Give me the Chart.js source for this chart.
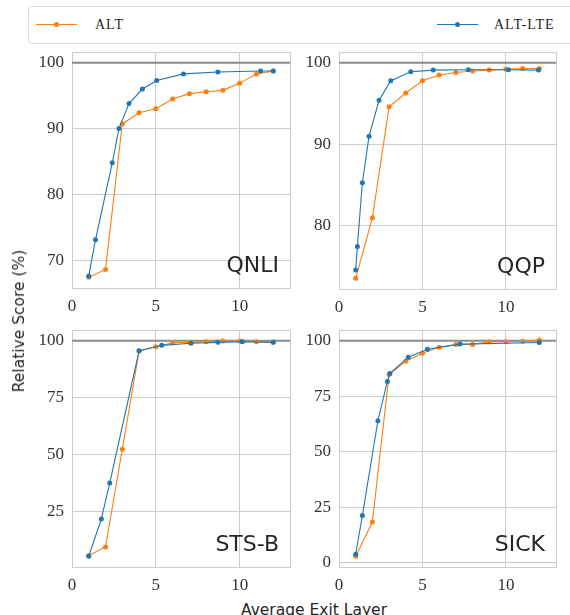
<!DOCTYPE html>
<html lang="en">
<head>
  <meta charset="UTF-8">
  <title>ALT vs ALT-LTE</title>
  <script src="https://cdn.jsdelivr.net/npm/chart.js"></script>
  <style>
    body { margin: 0; width: 570px; height: 615px; overflow: hidden; background: #fff; position: relative; }
    canvas { position: absolute; }
    #legend { position: absolute; left: 28px; top: 6px; width: 600px; height: 36px; border: 1px solid #dcdcdc; border-radius: 4px; background: #fff; }
    .item { position: absolute; top: 0; width: 140px; height: 36px; font-family: "Liberation Serif", serif; font-size: 14px; color: #262626; letter-spacing: 1px; line-height: 36px; white-space: nowrap; }
    .item .line { position: absolute; top: 17px; width: 41px; height: 1.2px; }
    .item .dot { position: absolute; top: 15px; width: 5px; height: 5px; border-radius: 50%; }
    .axlabel { position: absolute; font-family: "DejaVu Sans", sans-serif; font-size: 15.5px; color: #262626; white-space: nowrap; }
  </style>
</head>
<body>

<div id="legend">
  <div class="item" style="left:7px">
    <div class="line" style="left:0;background:#ff7f0e"></div>
    <div class="dot" style="left:18px;background:#ff7f0e"></div>
    <span style="position:absolute;left:59px">ALT</span>
  </div>
  <div class="item" style="left:408px">
    <div class="line" style="left:0;background:#1f77b4"></div>
    <div class="dot" style="left:18px;background:#1f77b4"></div>
    <span style="position:absolute;left:57px">ALT-LTE</span>
  </div>
</div>

<canvas id="c1" width="300" height="276" style="left:0;top:42px"></canvas>
<canvas id="c2" width="266" height="277" style="left:300px;top:42px"></canvas>
<canvas id="c3" width="300" height="277" style="left:0;top:320px"></canvas>
<canvas id="c4" width="266" height="277" style="left:300px;top:320px"></canvas>

<div class="axlabel" style="left:19px;top:321px;transform:translate(-50%,-50%) rotate(-90deg)">Relative Score (%)</div>
<div class="axlabel" style="left:314px;top:601px;transform:translateX(-50%)">Average Exit Layer</div>

<script>
  // x positions of the ALT points (exit layers 1..12)
  const altX = [1, 2, 3, 4, 5, 6, 7, 8, 9, 10, 11, 12];
  const xTicks = [0, 5, 10];

  // QNLI
  const qnliAlt = [67.4, 68.6, 90.7, 92.4, 93.0, 94.5, 95.3, 95.6, 95.8, 96.9, 98.3, 98.75];
  const qnliLteX = [1.0, 1.4, 2.4, 2.8, 3.4, 4.2, 5.05, 6.65, 8.7, 11.25, 12.0];
  const qnliLteY = [67.6, 73.1, 84.8, 90.0, 93.8, 96.0, 97.3, 98.3, 98.6, 98.75, 98.75];
  const qnliTicks = [70, 80, 90, 100];

  // QQP
  const qqpAlt = [73.6, 81.0, 94.6, 96.3, 97.8, 98.5, 98.8, 99.0, 99.1, 99.2, 99.3, 99.3];
  const qqpLteX = [1.0, 1.1, 1.4, 1.8, 2.4, 3.1, 4.3, 5.65, 7.75, 10.15, 11.95];
  const qqpLteY = [74.6, 77.5, 85.3, 91.0, 95.4, 97.8, 98.9, 99.1, 99.15, 99.15, 99.1];
  const qqpTicks = [80, 90, 100];

  // STS-B
  const stsbAlt = [5.7, 9.5, 52.4, 95.5, 97.4, 99.1, 99.3, 99.6, 99.9, 99.9, 99.6, 99.3];
  const stsbLteX = [1.0, 1.75, 2.25, 4.0, 5.35, 7.1, 8.7, 10.15, 12.0];
  const stsbLteY = [5.4, 21.8, 37.5, 95.6, 98.0, 98.9, 99.3, 99.6, 99.3];
  const stsbTicks = [25, 50, 75, 100];

  // SICK
  const sickAlt = [3.0, 18.4, 84.8, 90.8, 94.4, 97.1, 98.3, 98.3, 99.6, 99.6, 99.8, 100.3];
  const sickLteX = [1.0, 1.4, 2.33, 2.9, 3.05, 4.15, 5.3, 7.25, 12.0];
  const sickLteY = [3.9, 21.3, 64.0, 81.7, 85.3, 92.6, 96.2, 98.5, 99.2];
  const sickTicks = [0, 25, 50, 75, 100];

  const orange = '#ff7f0e';
  const blue = '#1f77b4';
  const gridColor = '#cccccc';

  Chart.defaults.font.family = "'Liberation Serif', serif";
  Chart.defaults.font.size = 17;
  Chart.defaults.color = '#333';

  function pts(xs, ys) {
    return xs.map((x, i) => ({ x: x, y: ys[i] }));
  }

  // light frame around the plot area (top/right sides included)
  const framePlugin = {
    id: 'frame',
    beforeDatasetsDraw(chart) {
      const a = chart.chartArea, ctx = chart.ctx;
      ctx.save();
      ctx.strokeStyle = gridColor;
      ctx.lineWidth = 1;
      ctx.strokeRect(Math.round(a.left) + 0.5, Math.round(a.top) + 0.5, Math.round(a.right - a.left), Math.round(a.bottom - a.top));
      ctx.restore();
    }
  };

  // task name in the lower right corner
  const namePlugin = {
    id: 'name',
    afterDraw(chart, args, opts) {
      const a = chart.chartArea, ctx = chart.ctx;
      ctx.save();
      ctx.font = '22px "DejaVu Sans"';
      ctx.fillStyle = '#262626';
      ctx.textAlign = 'right';
      ctx.textBaseline = 'alphabetic';
      ctx.fillText(opts.text, a.right - 11, a.bottom - 16);
      ctx.restore();
    }
  };

  function makeChart(id, name, altY, lteX, lteY, yTicks, yMin, yMax, yWidth) {
    new Chart(document.getElementById(id), {
      type: 'line',
      data: {
        datasets: [
          { label: 'ALT-LTE', data: pts(lteX, lteY), borderColor: blue, backgroundColor: blue, order: 1 },
          { label: 'ALT', data: pts(altX, altY), borderColor: orange, backgroundColor: orange, order: 2 },
          { label: 'ref', data: [{ x: 0, y: 100 }, { x: 13, y: 100 }], borderColor: '#8c8c8c', borderWidth: 1.8, pointRadius: 0, order: 3 }
        ]
      },
      options: {
        responsive: false,
        animation: false,
        layout: { padding: { top: 10, right: 10, left: 0, bottom: 0 } },
        elements: {
          line: { borderWidth: 1.1, tension: 0 },
          point: { radius: 2.5, borderWidth: 0 }
        },
        plugins: {
          legend: { display: false },
          tooltip: { enabled: false },
          name: { text: name }
        },
        scales: {
          x: {
            type: 'linear', min: 0, max: 13,
            afterBuildTicks: s => { s.ticks = xTicks.map(v => ({ value: v })); },
            afterFit: s => { s.height = 30; s.paddingLeft = 0; s.paddingRight = 0; },
            grid: { color: gridColor, drawTicks: false },
            border: { color: gridColor },
            ticks: { padding: 8, font: { family: "'Liberation Serif', serif", size: 17 }, color: '#333' }
          },
          y: {
            min: yMin, max: yMax,
            afterBuildTicks: s => { s.ticks = yTicks.map(v => ({ value: v })); },
            afterFit: s => { s.width = yWidth; s.paddingTop = 0; s.paddingBottom = 0; },
            grid: { color: gridColor, drawTicks: false },
            border: { color: gridColor },
            ticks: { padding: 8, font: { family: "'Liberation Serif', serif", size: 17 }, color: '#333' }
          }
        }
      },
      plugins: [framePlugin, namePlugin]
    });
  }

  makeChart('c1', 'QNLI', qnliAlt, qnliLteX, qnliLteY, qnliTicks, 65.77, 101.63, 72);
  makeChart('c2', 'QQP', qqpAlt, qqpLteX, qqpLteY, qqpTicks, 72.28, 101.32, 39);
  makeChart('c3', 'STS-B', stsbAlt, stsbLteX, stsbLteY, stsbTicks, 0.67, 104.73, 72);
  makeChart('c4', 'SICK', sickAlt, sickLteX, sickLteY, sickTicks, -1.85, 104.85, 39);
</script>

</body>
</html>
